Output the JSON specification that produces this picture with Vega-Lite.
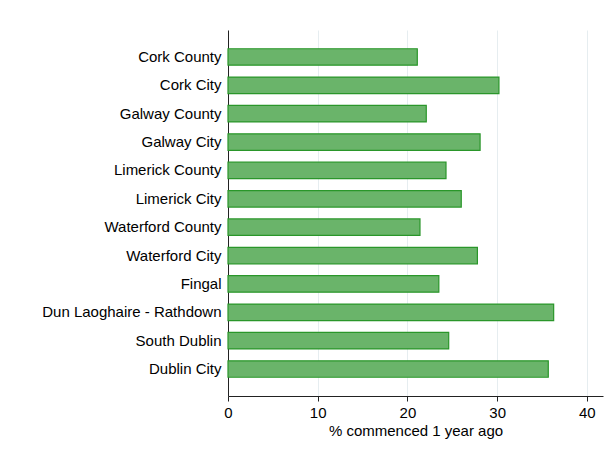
{
  "$schema": "https://vega.github.io/schema/vega-lite/v6.json",
  "width": 375,
  "height": 366,
  "autosize": {"type": "none"},
  "padding": {"left": 228, "top": 30, "right": 6, "bottom": 53},
  "background": "white",
  "data": {
    "values": [
      {"area": "Cork County", "pct": 21.1},
      {"area": "Cork City", "pct": 30.2},
      {"area": "Galway County", "pct": 22.1},
      {"area": "Galway City", "pct": 28.1},
      {"area": "Limerick County", "pct": 24.3},
      {"area": "Limerick City", "pct": 26.0},
      {"area": "Waterford County", "pct": 21.4},
      {"area": "Waterford City", "pct": 27.8},
      {"area": "Fingal", "pct": 23.5},
      {"area": "Dun Laoghaire - Rathdown", "pct": 36.3},
      {"area": "South Dublin", "pct": 24.6},
      {"area": "Dublin City", "pct": 35.7}
    ]
  },
  "mark": {"type": "bar", "fill": "#6ab46a", "stroke": "#2a962a", "strokeWidth": 1.2},
  "encoding": {
    "y": {
      "field": "area",
      "type": "nominal",
      "sort": null,
      "scale": {"paddingInner": 0.42, "paddingOuter": 0.66},
      "axis": {
        "title": null,
        "ticks": false,
        "labelFont": "Liberation Sans",
        "labelFontSize": 15,
        "labelColor": "#000000",
        "labelPadding": 7,
        "domainColor": "#222222",
        "domainWidth": 1,
        "grid": false,
        "labelLimit": 300
      }
    },
    "x": {
      "field": "pct",
      "type": "quantitative",
      "scale": {"domain": [0, 41.8], "nice": false},
      "axis": {
        "title": "% commenced 1 year ago",
        "titleFont": "Liberation Sans",
        "titleFontSize": 15,
        "titleFontWeight": "normal",
        "titleColor": "#000000",
        "titlePadding": 3,
        "values": [0, 10, 20, 30, 40],
        "labelFont": "Liberation Sans",
        "labelFontSize": 15,
        "labelColor": "#000000",
        "labelPadding": 4,
        "labelFlush": false,
        "tickSize": 5,
        "tickColor": "#222222",
        "domainColor": "#222222",
        "grid": true,
        "gridColor": "#e6edf0",
        "gridWidth": 1
      }
    }
  },
  "config": {"view": {"stroke": null}}
}
